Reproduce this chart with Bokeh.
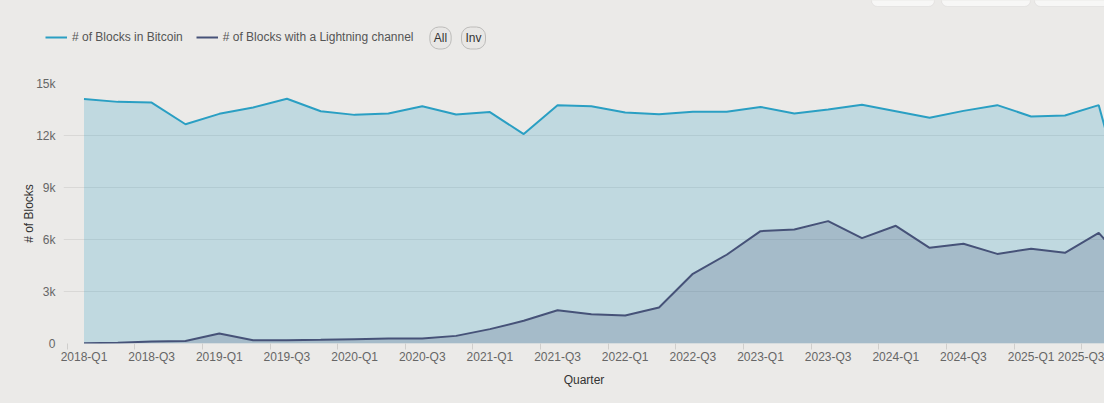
from bokeh.plotting import figure
from bokeh.layouts import column
from bokeh.models import Range1d, FixedTicker, Legend, LegendItem, Label, BoxAnnotation
from bokeh.embed import file_html
from bokeh.resources import INLINE

quarters = ["2018-Q1", "2018-Q2", "2018-Q3", "2018-Q4",
            "2019-Q1", "2019-Q2", "2019-Q3", "2019-Q4",
            "2020-Q1", "2020-Q2", "2020-Q3", "2020-Q4",
            "2021-Q1", "2021-Q2", "2021-Q3", "2021-Q4",
            "2022-Q1", "2022-Q2", "2022-Q3", "2022-Q4",
            "2023-Q1", "2023-Q2", "2023-Q3", "2023-Q4",
            "2024-Q1", "2024-Q2", "2024-Q3", "2024-Q4",
            "2025-Q1", "2025-Q2", "2025-Q3", "2025-Q4"]

blocks_bitcoin = [14100, 13940, 13900, 12650, 13250, 13620, 14120, 13400,
                  13190, 13270, 13690, 13210, 13350, 12080, 13750, 13690,
                  13330, 13230, 13370, 13370, 13650, 13270, 13500, 13770,
                  13400, 13020, 13420, 13750, 13100, 13150, 13750, 6600]

blocks_lightning = [20, 40, 120, 150, 580, 190, 190, 210,
                    250, 290, 290, 440, 830, 1310, 1920, 1690,
                    1620, 2080, 4020, 5120, 6480, 6580, 7060, 6080,
                    6790, 5520, 5750, 5170, 5460, 5230, 6380, 4200]

series_names = ["# of Blocks in Bitcoin", "# of Blocks with a Lightning channel"]
buttons = ["All", "Inv"]

y_ticks = [0, 3000, 6000, 9000, 12000, 15000]
y_tick_labels = ["0", "3k", "6k", "9k", "12k", "15k"]

BG = "#ebeae8"
GRID = "#d9d8d6"
BTC = "#2a9fc3"
LN = "#465278"
FONT = "Liberation Sans"
W = 1104
HEAD_H = 73

x_idx = list(range(len(quarters)))

# ---------------- header: legend + buttons ----------------
# header y coordinate: 0 at the strip's bottom edge, negative upwards
head = figure(width=W, height=HEAD_H, x_range=Range1d(0, W), y_range=Range1d(0, -HEAD_H),
              output_backend="svg", toolbar_location=None,
              x_axis_type=None, y_axis_type=None,
              min_border_left=0, min_border_right=0, min_border_top=0, min_border_bottom=0)
head.frame_align = False
head.background_fill_color = BG
head.border_fill_color = BG
head.outline_line_color = None
head.xgrid.visible = False
head.ygrid.visible = False

# series renderers for the legend samples (their values fall outside this strip)
h_btc = head.line(x_idx, blocks_bitcoin, line_color=BTC, line_width=2)
h_ln = head.line(x_idx, blocks_lightning, line_color=LN, line_width=2)
legend = Legend(items=[LegendItem(label=series_names[0], renderers=[h_btc]),
                       LegendItem(label=series_names[1], renderers=[h_ln])],
                location=(45, HEAD_H - 47), orientation="horizontal",
                padding=0, margin=0, spacing=13, glyph_width=22, glyph_height=16,
                label_standoff=5, label_height=20,
                label_text_font=FONT, label_text_font_size="12px",
                label_text_color="#555555",
                background_fill_alpha=0, border_line_alpha=0)
head.add_layout(legend)

for txt, xc in zip(buttons, [440, 473]):
    head.add_layout(Label(x=xc, y=37.5 - HEAD_H, text=txt, text_align="center",
                          text_baseline="middle", text_font=FONT,
                          text_font_size="12px", text_color="#333333",
                          background_fill_color="#e8e7e5", border_line_color="#bdbcba",
                          border_line_width=1, padding=4, border_radius=9))

# partially visible toolbar buttons at the top right
for x0, x1 in [(871, 934), (941, 1030), (1034, 1140)]:
    head.add_layout(BoxAnnotation(left=x0, right=x1, top=-30 - HEAD_H, bottom=6 - HEAD_H,
                                  fill_color="#f7f7f6", fill_alpha=1,
                                  line_color="#c9c8c6", line_width=1, border_radius=6))

# ---------------- main chart ----------------
p = figure(width=W, height=403 - HEAD_H,
           x_range=Range1d(-0.606, 30.17), y_range=Range1d(0, 15000),
           output_backend="svg", toolbar_location=None,
           min_border_left=63, min_border_right=0,
           min_border_top=10, min_border_bottom=60)
p.frame_align = False
p.background_fill_color = BG
p.border_fill_color = BG
p.outline_line_color = None

p.varea(x=x_idx, y1=0, y2=blocks_bitcoin, fill_color=BTC, fill_alpha=0.22)
p.varea(x=x_idx, y1=0, y2=blocks_lightning, fill_color=LN, fill_alpha=0.22)
p.line(x_idx, blocks_bitcoin, line_color=BTC, line_width=2)
p.line(x_idx, blocks_lightning, line_color=LN, line_width=2)

# x axis
label_idx = [i for i in x_idx if i % 2 == 0]
p.xaxis.ticker = FixedTicker(ticks=label_idx, minor_ticks=[i - 0.5 for i in label_idx])
p.xaxis.major_label_overrides = {i: quarters[i] for i in label_idx}
p.xaxis.major_tick_out = 0
p.xaxis.major_tick_in = 0
p.xaxis.minor_tick_out = 6
p.xaxis.minor_tick_in = 0
p.xaxis.minor_tick_line_color = "#cfcecc"
p.xaxis.axis_line_color = None
p.xaxis.major_label_standoff = 0
p.xaxis.major_label_text_font = FONT
p.xaxis.major_label_text_font_size = "12px"
p.xaxis.major_label_text_color = "#666666"
p.xaxis.axis_label = "Quarter"
p.xaxis.axis_label_text_font = FONT
p.xaxis.axis_label_text_font_size = "12px"
p.xaxis.axis_label_text_font_style = "normal"
p.xaxis.axis_label_text_color = "#333333"
p.xaxis.axis_label_standoff = 6
p.xgrid.visible = False

# y axis
p.yaxis.ticker = FixedTicker(ticks=y_ticks)
p.yaxis.major_label_overrides = {t: l for t, l in zip(y_ticks, y_tick_labels)}
p.yaxis.major_tick_out = 0
p.yaxis.major_tick_in = 0
p.yaxis.minor_tick_out = 0
p.yaxis.minor_tick_in = 0
p.yaxis.axis_line_color = None
p.yaxis.major_label_standoff = 8
p.yaxis.major_label_text_font = FONT
p.yaxis.major_label_text_font_size = "12px"
p.yaxis.major_label_text_color = "#666666"
p.yaxis.axis_label = "# of Blocks"
p.yaxis.axis_label_text_font = FONT
p.yaxis.axis_label_text_font_size = "12px"
p.yaxis.axis_label_text_font_style = "normal"
p.yaxis.axis_label_text_color = "#333333"
p.yaxis.axis_label_standoff = -3
p.ygrid.grid_line_color = GRID
p.ygrid.grid_line_width = 1

layout = column(head, p, spacing=0, styles={"background-color": BG})

open("out.html", "w").write(file_html(layout, INLINE))
